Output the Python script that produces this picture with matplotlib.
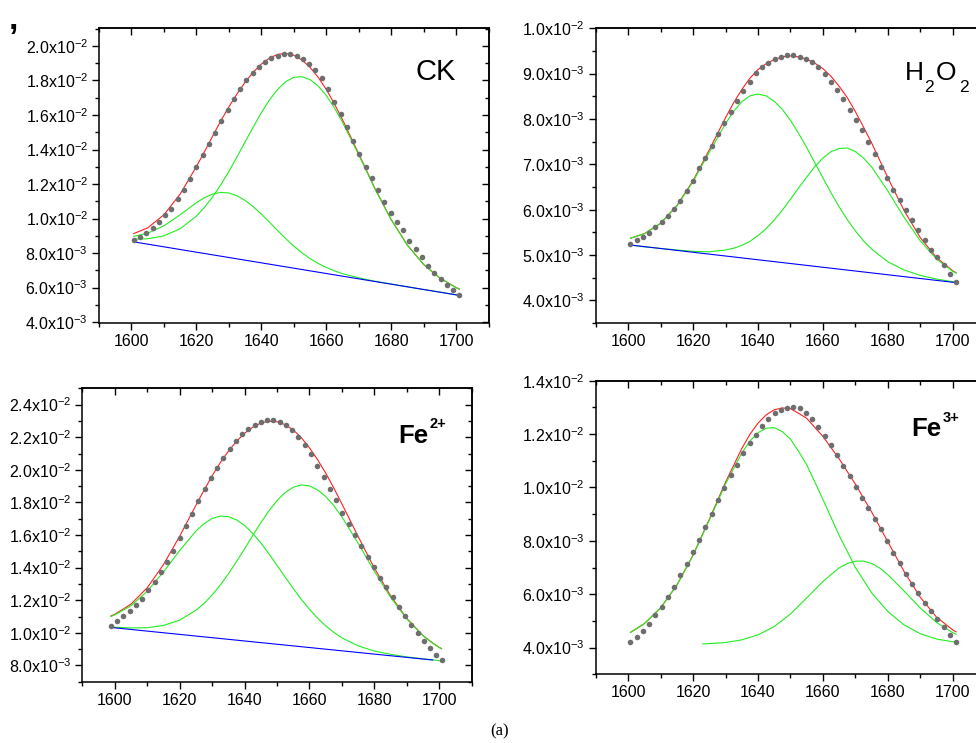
import numpy as np
import matplotlib
matplotlib.use("Agg")
import matplotlib.pyplot as plt
from matplotlib.ticker import MultipleLocator, FuncFormatter

plt.rcParams['font.family'] = ['Liberation Sans', 'DejaVu Sans']
plt.rcParams['mathtext.fontset'] = 'custom'
plt.rcParams['mathtext.rm'] = 'Liberation Sans'
plt.rcParams['mathtext.it'] = 'Liberation Sans:italic'
plt.rcParams['mathtext.bf'] = 'Liberation Sans:bold'
plt.rcParams['mathtext.sf'] = 'Liberation Sans'

SCALE = 1e-3  # all intensities below are in units of 1e-3

# ---------------- wavenumbers of the measured points ----------------
x_dots = [1600.7, 1602.6, 1604.6, 1606.5, 1608.4, 1610.3, 1612.3, 1614.2, 1616.1, 1618.1,
          1620.0, 1621.9, 1623.8, 1625.8, 1627.7, 1629.6, 1631.6, 1633.5, 1635.4, 1637.4,
          1639.3, 1641.2, 1643.1, 1645.1, 1647.0, 1648.9, 1650.9, 1652.8, 1654.7, 1656.6,
          1658.6, 1660.5, 1662.4, 1664.4, 1666.3, 1668.2, 1670.1, 1672.1, 1674.0, 1675.9,
          1677.9, 1679.8, 1681.7, 1683.6, 1685.6, 1687.5, 1689.4, 1691.4, 1693.3, 1695.2,
          1697.2, 1699.1, 1701.0]
x_dots_fe2 = [1598.8] + x_dots

# ---------------- CK ----------------
ck_dots = [8.75, 8.95, 9.18, 9.45, 9.80, 10.19, 10.57, 11.11, 11.65, 12.31,
           12.97, 13.66, 14.30, 14.96, 15.63, 16.29, 16.91, 17.49, 18.01, 18.42,
           18.80, 19.07, 19.29, 19.42, 19.52, 19.52, 19.42, 19.25, 18.94, 18.61,
           18.13, 17.49, 16.75, 16.06, 15.28, 14.49, 13.74, 13.00, 12.33, 11.65,
           10.98, 10.34, 9.80, 9.31, 8.72, 8.21, 7.75, 7.27, 6.86, 6.49,
           6.13, 5.86, 5.55]
ck_cx = [1600.7, 1605, 1610, 1615, 1620, 1622.5, 1625, 1627.5, 1630, 1632.5, 1635,
         1637.5, 1640, 1642.5, 1645, 1647.5, 1650, 1652.5, 1655, 1657.5, 1660, 1662.5,
         1665, 1670, 1675, 1680, 1685, 1690, 1695, 1700, 1701]
ck_fit = [9.13, 9.46, 10.22, 11.42, 13.01, 13.88, 14.78, 15.65, 16.47, 17.22, 17.90,
          18.48, 18.95, 19.30, 19.51, 19.57, 19.46, 19.19, 18.76, 18.19, 17.48, 16.65,
          15.73, 13.75, 11.74, 9.94, 8.46, 7.34, 6.55, 6.00, 5.91]
ck_comp1 = [8.97, 9.15, 9.58, 10.22, 10.92, 11.21, 11.42, 11.52, 11.48, 11.32, 11.05,
            10.69, 10.26, 9.79, 9.31, 8.84, 8.41, 8.02, 7.68, 7.40, 7.17, 6.97,
            6.81, 6.57, 6.37, 6.21, 6.05, 5.89, 5.74, 5.58, 5.55]
ck_comp2 = [8.81, 8.83, 9.00, 9.41, 10.14, 10.65, 11.26, 11.95, 12.73, 13.57, 14.44,
            15.30, 16.13, 16.87, 17.48, 17.93, 18.18, 18.22, 18.05, 17.68, 17.13, 16.42,
            15.58, 13.69, 11.72, 9.93, 8.45, 7.34, 6.55, 6.00, 5.91]
ck_base_x = [1600.7, 1701.0]
ck_base_y = [8.65, 5.55]

# ---------------- H2O2 ----------------
h2o2_dots = [5.24, 5.32, 5.39, 5.48, 5.61, 5.73, 5.86, 6.02, 6.19, 6.41,
             6.64, 6.91, 7.14, 7.40, 7.66, 7.92, 8.16, 8.40, 8.62, 8.82,
             9.01, 9.15, 9.23, 9.32, 9.37, 9.42, 9.41, 9.37, 9.33, 9.25,
             9.15, 9.00, 8.81, 8.65, 8.45, 8.20, 7.98, 7.75, 7.49, 7.22,
             6.94, 6.69, 6.44, 6.22, 6.00, 5.77, 5.55, 5.32, 5.12, 4.96,
             4.77, 4.58, 4.40]
h2o2_cx = [1600.7, 1605, 1610, 1615, 1620, 1625, 1630, 1632.5, 1635, 1637.5, 1640,
           1642.5, 1645, 1647.5, 1650, 1652.5, 1655, 1657.5, 1660, 1662.5, 1665,
           1667.5, 1670, 1672.5, 1675, 1680, 1685, 1690, 1695, 1700, 1701]
h2o2_fit = [5.37, 5.47, 5.70, 6.09, 6.64, 7.32, 8.03, 8.36, 8.65, 8.90, 9.09,
            9.22, 9.31, 9.37, 9.39, 9.37, 9.32, 9.23, 9.11, 8.94, 8.72,
            8.47, 8.16, 7.82, 7.47, 6.70, 5.98, 5.38, 4.94, 4.65, 4.61]
h2o2_comp1 = [5.37, 5.47, 5.70, 6.08, 6.62, 7.27, 7.90, 8.17, 8.38, 8.51, 8.55,
              8.51, 8.39, 8.21, 7.97, 7.68, 7.37, 7.03, 6.70, 6.37, 6.06,
              5.78, 5.53, 5.31, 5.13, 4.85, 4.67, 4.55, 4.47, 4.41, 4.40]
h2o2_comp2 = [5.22, 5.18, 5.145, 5.11, 5.08, 5.07, 5.11, 5.15, 5.21, 5.30, 5.43,
              5.58, 5.77, 5.99, 6.23, 6.48, 6.72, 6.95, 7.14, 7.28, 7.35,
              7.36, 7.28, 7.14, 6.94, 6.41, 5.83, 5.31, 4.91, 4.64, 4.60]
h2o2_base_x = [1600.7, 1701.0]
h2o2_base_y = [5.22, 4.39]

# ---------------- Fe2+ ----------------
fe2_dots = [10.43, 10.72, 11.02, 11.33, 11.71, 12.10, 12.61, 13.12, 13.75, 14.35,
            15.04, 15.80, 16.53, 17.30, 18.06, 18.80, 19.47, 20.14, 20.75, 21.30,
            21.75, 22.18, 22.50, 22.77, 22.96, 23.06, 23.06, 22.93, 22.73, 22.42,
            22.01, 21.51, 20.94, 20.24, 19.55, 18.81, 18.12, 17.36, 16.67, 16.00,
            15.33, 14.67, 14.04, 13.35, 12.80, 12.19, 11.61, 11.02, 10.47, 9.96,
            9.51, 9.06, 8.65, 8.31]
fe2_cx = [1598.8, 1600, 1605, 1610, 1615, 1620, 1625, 1627.5, 1630, 1632.5, 1635,
          1637.5, 1640, 1642.5, 1645, 1647.5, 1650, 1652.5, 1655, 1657.5, 1660,
          1662.5, 1665, 1667.5, 1670, 1675, 1680, 1685, 1690, 1695, 1698, 1700, 1700.7]
fe2_fit = [11.03, 11.13, 11.76, 12.76, 14.18, 15.92, 17.82, 18.74, 19.63, 20.43, 21.14,
           21.74, 22.24, 22.61, 22.87, 22.98, 22.95, 22.77, 22.45, 21.97, 21.35,
           20.62, 19.80, 18.89, 17.91, 15.91, 13.97, 12.27, 10.88, 9.83, 9.37, 9.10, 9.03]
fe2_comp1 = [11.00, 11.10, 11.66, 12.55, 13.73, 15.04, 16.24, 16.69, 17.01, 17.16, 17.13,
             16.93, 16.59, 16.10, 15.52, 14.85, 14.14, 13.42, 12.72, 12.05, 11.44,
             10.90, 10.43, 10.03, 9.69, 9.20, 8.88, 8.68, 8.52, 8.40, 8.34, 8.29, 8.28]
fe2_comp2 = [10.36, 10.34, 10.30, 10.31, 10.45, 10.78, 11.38, 11.80, 12.32, 12.92, 13.61,
             14.36, 15.15, 15.96, 16.75, 17.48, 18.11, 18.60, 18.93, 19.07, 19.01,
             18.77, 18.36, 17.80, 17.11, 15.50, 13.78, 12.18, 10.85, 9.82, 9.36, 9.10, 9.02]
fe2_base_x = [1598.8, 1698.0]
fe2_base_y = [10.33, 8.33]

# ---------------- Fe3+ ----------------
fe3_dots = [4.20, 4.39, 4.63, 4.90, 5.22, 5.53, 5.89, 6.27, 6.71, 7.15,
            7.59, 8.03, 8.52, 9.02, 9.53, 9.99, 10.45, 10.86, 11.29, 11.68,
            11.98, 12.29, 12.58, 12.80, 12.92, 12.96, 13.00, 12.96, 12.78, 12.55,
            12.27, 11.93, 11.59, 11.21, 10.80, 10.42, 10.01, 9.61, 9.23, 8.83,
            8.43, 8.01, 7.56, 7.16, 6.76, 6.38, 6.03, 5.69, 5.37, 5.07,
            4.76, 4.49, 4.20]
fe3_cx = [1600.7, 1605, 1610, 1615, 1620, 1625, 1630, 1635, 1637.5, 1640, 1642.5,
          1645, 1647.5, 1650, 1652.5, 1655, 1660, 1665, 1670, 1675, 1680, 1685,
          1690, 1695, 1700, 1701]
fe3_fit = [4.57, 4.90, 5.49, 6.34, 7.47, 8.81, 10.20, 11.46, 11.99, 12.41, 12.72,
           12.91, 12.98, 12.95, 12.78, 12.59, 11.91, 11.07, 10.12, 9.08, 7.96, 6.85,
           5.88, 5.14, 4.66, 4.59]
fe3_comp1 = [4.57, 4.90, 5.49, 6.34, 7.46, 8.78, 10.13, 11.29, 11.74, 12.05, 12.22,
             12.24, 12.09, 11.81, 11.35, 10.85, 9.55, 8.20, 7.00, 6.05, 5.35, 4.85,
             4.52, 4.32, 4.22, 4.21]
fe3_c2x = [1623, 1625, 1630, 1635, 1640, 1645, 1650, 1655, 1660, 1665, 1667.5, 1670,
           1672.5, 1675, 1677.5, 1680, 1685, 1690, 1695, 1700, 1701]
fe3_comp2 = [4.14, 4.15, 4.19, 4.29, 4.48, 4.79, 5.26, 5.86, 6.48, 6.99, 7.15, 7.24,
             7.24, 7.15, 6.98, 6.73, 6.12, 5.48, 4.94, 4.56, 4.50]

# ---------------- figure ----------------
W, H = 976, 743
fig = plt.figure(figsize=(W / 100, H / 100), dpi=100)


def px_rect(left, top, right, bottom):
    return [left / W, 1 - bottom / H, (right - left) / W, (bottom - top) / H]


def sci_fmt(v, pos):
    if v <= 0:
        return ''
    e = int(np.floor(np.log10(v) + 1e-9))
    m = v / 10 ** e
    return r'$\mathrm{%.1fx10^{%d}}$' % (m, e)


def s(arr):
    return np.asarray(arr, dtype=float) * SCALE


RED = '#ff2020'
GREEN = '#1fef1f'
BLUE = '#0000ff'
DOT = '#6e6e6e'
LBL = 11.5


def panel(rect, ylim, ymaj, ymin, xd, yd, xc, yfit, comps, base):
    ax = fig.add_axes(rect)
    ax.set_xlim(1590, 1710)
    ax.set_ylim(*ylim)
    ax.plot(xc, s(yfit), color=RED, lw=0.8, zorder=2)
    for cx, cy in comps:
        ax.plot(cx, s(cy), color=GREEN, lw=0.8, zorder=3)
    if base is not None:
        ax.plot(base[0], s(base[1]), color=BLUE, lw=0.8, zorder=4)
    ax.plot(xd, s(yd), 'o', color=DOT, ms=4.0, mec='none', zorder=5)

    ax.xaxis.set_major_locator(MultipleLocator(20))
    ax.xaxis.set_minor_locator(MultipleLocator(10))
    ax.yaxis.set_major_locator(MultipleLocator(ymaj))
    ax.yaxis.set_minor_locator(MultipleLocator(ymin))
    ax.yaxis.set_major_formatter(FuncFormatter(sci_fmt))
    ax.tick_params(which='both', direction='out', top=False, right=False,
                   labelsize=LBL, width=1.0)
    ax.tick_params(which='major', length=5, pad=3)
    ax.tick_params(which='minor', length=3)
    for sp in ax.spines.values():
        sp.set_linewidth(1.1)

    sx = ax.secondary_xaxis('top')
    sx.xaxis.set_major_locator(MultipleLocator(20))
    sx.xaxis.set_minor_locator(MultipleLocator(10))
    sx.tick_params(which='both', direction='in', labeltop=False, width=1.0)
    sx.tick_params(which='major', length=5)
    sx.tick_params(which='minor', length=3)
    sx.spines['top'].set_linewidth(1.1)

    sy = ax.secondary_yaxis('right')
    sy.yaxis.set_major_locator(MultipleLocator(ymaj))
    sy.yaxis.set_minor_locator(MultipleLocator(ymin))
    sy.tick_params(which='both', direction='in', labelright=False, width=1.0)
    sy.tick_params(which='major', length=5)
    sy.tick_params(which='minor', length=3)
    sy.spines['right'].set_linewidth(1.1)
    return ax


panel(px_rect(99, 28, 488.6, 323), (3.95e-3, 2.104e-2), 2e-3, 1e-3,
      x_dots, ck_dots, ck_cx, ck_fit,
      [(ck_cx, ck_comp1), (ck_cx, ck_comp2)], (ck_base_x, ck_base_y))
panel(px_rect(595.7, 28.3, 985.3, 323), (3.5e-3, 1.0e-2), 1e-3, 0.5e-3,
      x_dots, h2o2_dots, h2o2_cx, h2o2_fit,
      [(h2o2_cx, h2o2_comp1), (h2o2_cx, h2o2_comp2)], (h2o2_base_x, h2o2_base_y))
panel(px_rect(82.3, 388.3, 471.7, 681.7), (7.0e-3, 2.5e-2), 2e-3, 1e-3,
      x_dots_fe2, fe2_dots, fe2_cx, fe2_fit,
      [(fe2_cx, fe2_comp1), (fe2_cx, fe2_comp2)], (fe2_base_x, fe2_base_y))
panel(px_rect(595.7, 380.7, 985.3, 674.3), (3.0e-3, 1.4e-2), 2e-3, 1e-3,
      x_dots, fe3_dots, fe3_cx, fe3_fit,
      [(fe3_cx, fe3_comp1), (fe3_c2x, fe3_comp2)], None)


def ftext(x, y, txt, **kw):
    return fig.text(x / W, 1 - y / H, txt, **kw)


ftext(436, 80, 'CK', fontsize=21, ha='center', va='baseline')
# H2O2 with low subscripts
ftext(905, 80, 'H', fontsize=19, ha='left', va='baseline')
ftext(924.5, 91.5, '2', fontsize=12.5, ha='left', va='baseline')
ftext(936, 80, 'O', fontsize=19, ha='left', va='baseline')
ftext(959, 91.5, '2', fontsize=12.5, ha='left', va='baseline')
# Fe2+ / Fe3+ with raised superscripts
ftext(398, 443.5, 'Fe', fontsize=18.5, fontweight='bold', ha='left', va='baseline')
ftext(429.5, 428.5, '2+', fontsize=10.5, fontweight='bold', ha='left', va='baseline')
ftext(911.5, 436.5, 'Fe', fontsize=18.5, fontweight='bold', ha='left', va='baseline')
ftext(943, 422, '3+', fontsize=10.5, fontweight='bold', ha='left', va='baseline')
ftext(500, 731, '(a)', fontsize=12, ha='center', va='center',
      family=['Liberation Serif', 'DejaVu Serif'])
ftext(13, 21, ',', fontsize=24, fontweight='bold', ha='center', va='center')

fig.savefig('out.png', dpi=100)
